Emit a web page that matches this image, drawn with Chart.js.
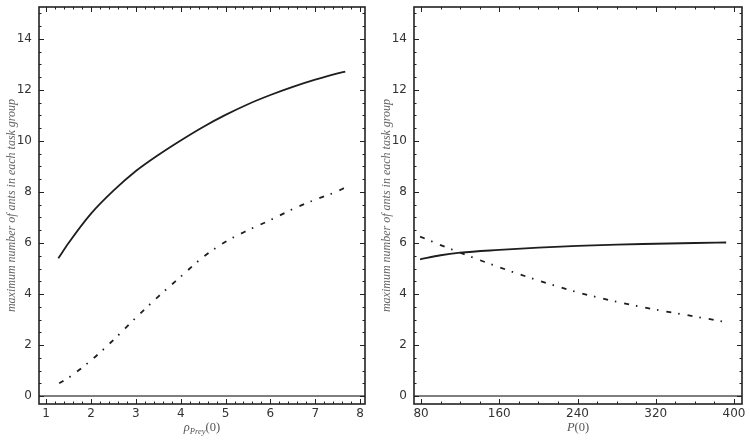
<!DOCTYPE html>
<html>
<head>
<meta charset="utf-8">
<script src="https://cdn.jsdelivr.net/npm/chart.js@4.4.1/dist/chart.umd.min.js"></script>
<style>
  html, body { margin: 0; padding: 0; background: #fff; }
  #wrap { position: relative; width: 750px; height: 442px; }
  canvas { position: absolute; top: 0; }
</style>
</head>
<body>
<div id="wrap">
  <canvas id="left" width="375" height="442" style="left:0"></canvas>
  <canvas id="right" width="375" height="442" style="left:375px"></canvas>
</div>
<script>
// left panel: initial prey density
const preyX      = [1.27, 1.5, 2, 2.5, 3, 3.5, 4, 4.5, 5, 5.5, 6, 6.5, 7, 7.5, 7.67];
const preySolid  = [5.4, 6.0, 7.15, 8.05, 8.82, 9.45, 10.02, 10.55, 11.02, 11.44, 11.8, 12.12, 12.4, 12.65, 12.72];
const preyDashX  = [1.29, 1.5, 2, 2.5, 3, 3.5, 4, 4.5, 5, 5.5, 6, 6.5, 7, 7.5, 7.67];
const preyDash   = [0.5, 0.72, 1.4, 2.2, 3.07, 3.9, 4.68, 5.45, 6.05, 6.5, 6.9, 7.33, 7.7, 8.03, 8.18];
// right panel: initial population
const popX       = [79, 100, 120, 160, 200, 240, 280, 320, 360, 392];
const popSolid   = [5.36, 5.52, 5.62, 5.73, 5.82, 5.89, 5.94, 5.97, 6.0, 6.02];
const popDash    = [6.25, 5.92, 5.62, 5.05, 4.53, 4.07, 3.7, 3.39, 3.12, 2.9];

const yTicks = [0, 2, 4, 6, 8, 10, 12, 14];
const preyTicks = [1, 2, 3, 4, 5, 6, 7, 8];
const popTicks = [80, 160, 240, 320, 400];
const yTitle = 'maximum number of ants in each task group';

const pts = (xs, ys) => xs.map((x, i) => ({ x: x, y: ys[i] }));

// frame, inward ticks on all four sides, zero line and axis titles
const decor = {
  id: 'decor',
  afterDatasetsDraw(chart, args, o) {
    const { ctx, chartArea: a, scales: { x, y } } = chart;
    ctx.save();
    // zero line
    ctx.strokeStyle = '#555';
    ctx.lineWidth = 1.5;
    const y0 = y.getPixelForValue(0);
    ctx.beginPath(); ctx.moveTo(a.left, y0); ctx.lineTo(a.right, y0); ctx.stroke();

    ctx.strokeStyle = '#222';
    ctx.lineWidth = 1;
    const xt = (v, len) => {
      const p = Math.round(x.getPixelForValue(v)) + 0.5;
      ctx.beginPath();
      ctx.moveTo(p, a.bottom); ctx.lineTo(p, a.bottom - len);
      ctx.moveTo(p, a.top); ctx.lineTo(p, a.top + len);
      ctx.stroke();
    };
    const yt = (v, len) => {
      const p = Math.round(y.getPixelForValue(v)) + 0.5;
      ctx.beginPath();
      ctx.moveTo(a.left, p); ctx.lineTo(a.left + len, p);
      ctx.moveTo(a.right, p); ctx.lineTo(a.right - len, p);
      ctx.stroke();
    };
    for (let i = 0; ; i++) {
      const v = o.xStart + i * o.xMinor;
      if (v > x.max) break;
      if (v >= x.min) xt(v, 2.5);
    }
    o.xMajor.forEach(v => xt(v, 5));
    for (let i = 0; ; i++) {
      const v = i * 0.5;
      if (v > y.max) break;
      yt(v, 2.5);
    }
    yTicks.forEach(v => yt(v, 5));

    // frame
    ctx.strokeStyle = '#222';
    ctx.lineWidth = 1.6;
    ctx.strokeRect(a.left, a.top, a.right - a.left, a.bottom - a.top);

    // y title
    ctx.fillStyle = '#666';
    ctx.font = 'italic 12px "Liberation Serif"';
    ctx.textAlign = 'center';
    ctx.textBaseline = 'middle';
    ctx.save();
    ctx.translate(12, (a.top + a.bottom) / 2);
    ctx.rotate(-Math.PI / 2);
    ctx.fillText(yTitle, 0, 0);
    ctx.restore();

    // x title with subscript
    const cx = (a.left + a.right) / 2, base = 431;
    ctx.fillStyle = '#555';
    ctx.textAlign = 'left';
    ctx.textBaseline = 'alphabetic';
    const parts = o.xTitle;
    let total = 0;
    parts.forEach(p => { ctx.font = p.font; total += ctx.measureText(p.text).width; });
    let px = cx - total / 2;
    parts.forEach(p => {
      ctx.font = p.font;
      ctx.fillText(p.text, px, base + (p.dy || 0));
      px += ctx.measureText(p.text).width;
    });
    ctx.restore();
  }
};

function makeChart(id, xs1, ys1, xs2, ys2, xMin, xMax, xMajor, xStart, xMinor, xTitle, padRight) {
  const line = {
    borderColor: '#1e1e1e', borderWidth: 1.8, pointRadius: 0,
    fill: false, cubicInterpolationMode: 'monotone'
  };
  return new Chart(document.getElementById(id), {
    type: 'line',
    data: {
      datasets: [
        Object.assign({ label: 'solid', data: pts(xs1, ys1) }, line),
        Object.assign({ label: 'dashdot', data: pts(xs2, ys2), borderDash: [5, 7, 1.5, 8] }, line)
      ]
    },
    options: {
      responsive: false,
      animation: false,
      layout: { padding: { top: 0, right: padRight, left: 0, bottom: 0 } },
      plugins: {
        legend: { display: false },
        tooltip: { enabled: false },
        decor: { xMajor: xMajor, xStart: xStart, xMinor: xMinor, xTitle: xTitle }
      },
      scales: {
        x: {
          type: 'linear', min: xMin, max: xMax,
          afterBuildTicks: s => { s.ticks = xMajor.map(v => ({ value: v })); },
          afterFit: s => { s.height = 38; s.paddingLeft = 0; s.paddingRight = 0; },
          grid: { display: false, drawTicks: false },
          border: { display: false },
          ticks: { color: '#333', padding: 3, font: { family: 'DejaVu Sans', size: 12 }, maxRotation: 0 }
        },
        y: {
          type: 'linear', min: -0.31, max: 15.25,
          afterBuildTicks: s => { s.ticks = yTicks.map(v => ({ value: v })); },
          afterFit: s => { s.width = 39; s.paddingTop = 7; s.paddingBottom = 0; },
          grid: { display: false, drawTicks: false },
          border: { display: false },
          ticks: { color: '#333', padding: 7, font: { family: 'DejaVu Sans', size: 12 } }
        }
      }
    },
    plugins: [decor]
  });
}

makeChart('left', preyX, preySolid, preyDashX, preyDash, 0.84, 8.11, preyTicks, 0.2, 0.2, [
  { text: 'ρ', font: 'italic 12.5px "Liberation Serif"' },
  { text: 'Prey', font: 'italic 8.5px "Liberation Serif"', dy: 3 },
  { text: '(0)', font: '12.5px "Liberation Serif"' }
], 10);

makeChart('right', popX, popSolid, popX, popDash, 72.8, 408.2, popTicks, 80, 20, [
  { text: 'P', font: 'italic 12.5px "Liberation Serif"' },
  { text: '(0)', font: '12.5px "Liberation Serif"' }
], 8);
</script>
</body>
</html>
